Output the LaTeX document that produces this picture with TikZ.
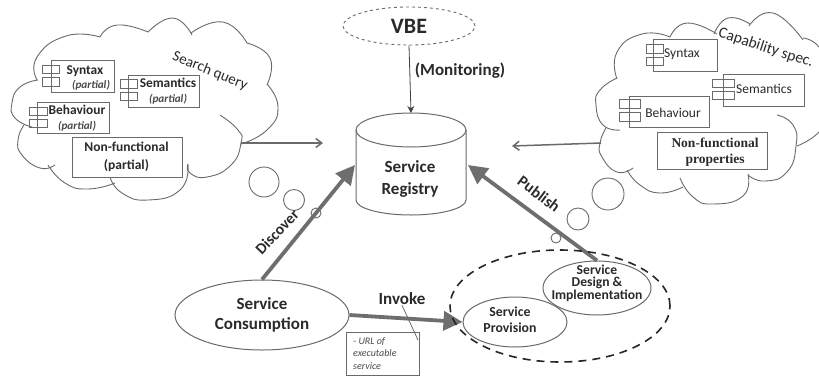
\documentclass[tikz,border=0pt]{standalone}
\usepackage{fontspec}
\setmainfont{Carlito}
\newfontfamily\serifbf{Liberation Serif}
\usetikzlibrary{shapes.geometric,arrows.meta}
\definecolor{ln}{HTML}{6A6A6A}
\definecolor{thick}{HTML}{6E6E6E}
\definecolor{tx}{HTML}{2A2A2A}
\newcommand{\lobe}[1]{\draw[cl] plot[smooth,tension=0.9] coordinates {#1};}
\tikzset{
 cl/.style={draw=ln,line width=0.9pt},
 bx/.style={draw=ln,line width=1pt},
 ell/.style={ellipse,draw=ln,line width=1pt,inner sep=0pt,align=center,text=tx},
 lab/.style={text=tx,inner sep=0pt,align=center},
 bub/.style={circle,draw=ln,line width=0.9pt,inner sep=0pt},
 mainarrow/.style={draw=thick,line width=3.8pt,-{Triangle[length=19pt,width=19pt]}},
 sidearrow/.style={draw=ln,line width=1.5pt,-{Straight Barb[length=6pt,width=9pt]}},
 lb/.style={lab,font=\bfseries\fontsize{13.4}{15}\selectfont},
 lp/.style={lab,font=\bfseries\itshape\fontsize{11.2}{13}\selectfont,text=ln!70!black},
 lr/.style={lab,font=\fontsize{13.5}{15}\selectfont},
}
\begin{document}
\begin{tikzpicture}[x=1pt,y=-1pt]
\useasboundingbox (0,0) rectangle (819,376);
\fill[white] (0,0) rectangle (819,376);
% left cloud
\lobe{(37,80) (37,57) (66,36) (100,37)}
\lobe{(100,37) (117,25) (148,32)}
\lobe{(148,32) (173,18) (192,35)}
\lobe{(191,33) (223,22) (247,43)}
\lobe{(247,43) (270,58) (267,85)}
\lobe{(267,84) (278,107) (267,130) (241,144)}
\lobe{(220,115) (238,130) (241,143) (231,165) (207,177) (190,173) (188,164)}
\lobe{(188,165) (180,190) (148,200) (122,193) (110,177)}
\lobe{(115,183) (88,189) (65,183) (48,165)}
\lobe{(55,165) (40,168) (22,155) (18,140) (24,125)}
\lobe{(32,127) (15,118) (12,103) (20,87) (38,80)}
% left bubbles
\node[bub,minimum size=30pt] (b1) at (264,182) {};
\node[bub,minimum size=21pt] (b2) at (294,200) {};
\node[bub,minimum size=10pt] (b3) at (316,213) {};
% left boxes
\node[bx,minimum width=63pt,minimum height=32pt,inner sep=0] (lsyn) at (82.5,76) {};
\draw[bx] (42,65) rectangle (59,73) (42,77) rectangle (59,86);
\node[lb] (lsynt) at (85,71) {Syntax};
\node[lp] (lsynp) at (91,85) {(partial)};
\node[bx,minimum width=71pt,minimum height=32pt,inner sep=0] (lsem) at (163.5,91) {};
\draw[bx] (120,79) rectangle (137,88) (120,92) rectangle (137,100);
\node[lb] (lsemt) at (168,83) {Semantics};
\node[lp] (lsemp) at (168,99) {(partial)};
\node[bx,minimum width=72pt,minimum height=31pt,inner sep=0] (lbeh) at (73,117.5) {};
\draw[bx] (29,107) rectangle (47,115) (29,119) rectangle (47,127);
\node[lb] (lbeht) at (77,110) {Behaviour};
\node[lp] (lbehp) at (77,126) {(partial)};
\node[bx,fill=white,minimum width=110pt,minimum height=40pt,inner sep=0] (lnf) at (127,157) {};
\node[lab,font=\bfseries\fontsize{13.5}{18}\selectfont] (lnft) at (126.5,157) {Non-functional\\(partial)};
\node[lab,font=\fontsize{15}{17}\selectfont,rotate=-22] (sq) at (210,71) {Search query};
% right cloud
\begin{scope}
\clip (0,0) rectangle (819,376);
\lobe{(617,79) (617,52) (642,34) (670,37)}
\lobe{(670,37) (687,23) (717,34)}
\lobe{(714,34) (728,18) (750,24)}
\lobe{(749,26) (773,13) (803,40)}
\lobe{(803,38) (822,52) (826,90) (824,125) (797,146)}
\lobe{(777,115) (793,125) (796,146) (787,172) (765,181) (748,175)}
\lobe{(748,174) (743,196) (713,204) (693,197) (680,178)}
\lobe{(683,187) (660,193) (640,185) (627,170)}
\lobe{(633,168) (617,172) (602,157) (600,143) (606,128)}
\lobe{(620,130) (603,125) (596,105) (600,90) (617,78)}
\end{scope}
% right bubbles
\node[bub,minimum size=32pt] (b4) at (608,194) {};
\node[bub,minimum size=22pt] (b5) at (578,219) {};
\node[bub,minimum size=10pt] (b6) at (556,238) {};
% right boxes
\node[bx,minimum width=64pt,minimum height=32pt,inner sep=0] (rsyn) at (685,55) {};
\draw[bx] (646,44) rectangle (663,53) (646,57) rectangle (663,65);
\node[lr] (rsynt) at (682,54) {Syntax};
\node[bx,minimum width=81pt,minimum height=32pt,inner sep=0] (rsem) at (763.5,90) {};
\draw[bx] (712,79) rectangle (734,87) (712,91) rectangle (734,99);
\node[lr] (rsemt) at (764,89) {Semantics};
\node[bx,minimum width=80pt,minimum height=31pt,inner sep=0] (rbeh) at (669,111.5) {};
\draw[bx] (619,99) rectangle (640,108) (619,112) rectangle (640,121);
\node[lr] (rbeht) at (673,113) {Behaviour};
\node[bx,fill=white,minimum width=110pt,minimum height=37pt,inner sep=0] (rnf) at (712,150.5) {};
\node[lab,font=\serifbf\bfseries\fontsize{13.5}{16}\selectfont] (rnft) at (715,152) {Non-functional\\properties};
\node[lab,font=\fontsize{15.6}{17}\selectfont,rotate=-18] (cs) at (766,48) {Capability spec.};
% VBE
\node[ellipse,draw=ln,dashed,line width=0.9pt,minimum width=132pt,minimum height=38pt,inner sep=0,text=tx,font=\bfseries\fontsize{22}{26}\selectfont] (vbe) at (409,26) {VBE};
% registry cylinder
\coordinate (regtop) at (411,113);
\coordinate (regL) at (355,165);
\coordinate (regR) at (468,165);
\draw[cl,line width=1pt] (356,130) arc[start angle=180,end angle=-180,x radius=55,y radius=17];
\draw[cl,line width=1pt] (356,130) -- (356,200) arc[start angle=180,end angle=0,x radius=55,y radius=15] -- (466,130);
\node[lab,font=\bfseries\fontsize{17}{21.5}\selectfont] (reg) at (410,179) {Service\\Registry};
% side arrows
\coordinate (cl) at (241,143);
\coordinate (cr) at (601,143);
\coordinate (sl) at (323,143);
\coordinate (sr) at (512,146);
\draw[sidearrow] (cl) -- (sl);
\draw[sidearrow] (cr) -- (sr);
\draw[draw=black!75,line width=0.8pt,-{Stealth[length=7pt,width=7pt]}] (vbe.south) -- (regtop);
\node[lab,font=\bfseries\fontsize{17}{20}\selectfont] (mon) at (460,71) {(Monitoring)};
% ellipses
\node[ell,minimum width=174pt,minimum height=70pt,font=\bfseries\fontsize{17}{20.5}\selectfont] (cons) at (262,315) {Service\\Consumption};
\node[ell,minimum width=104pt,minimum height=50pt] (prov) at (515,322) {};
\node[lab,font=\bfseries\fontsize{13.8}{16}\selectfont] (provt) at (510,320) {Service\\Provision};
\node[ell,minimum width=108pt,minimum height=54pt] (des) at (597,288) {};
\node[lab,font=\bfseries\fontsize{13.6}{12.5}\selectfont] (dest) at (597,283) {Service\\Design \&\\Implementation};
% main arrows
\draw[mainarrow] (cons.north) -- (regL);
\draw[mainarrow] (des.north) -- (regR);
\draw[mainarrow] (cons.east) -- (prov.west);
\node[ellipse,draw=black!85,dashed,dash pattern=on 8pt off 6pt,line width=1.6pt,minimum width=220pt,minimum height=112pt,inner sep=0] (grp) at (560,306) {};
% labels
\node[lab,font=\bfseries\fontsize{15.5}{17}\selectfont,rotate=46] (disc) at (277,232) {Discover};
\node[lab,font=\bfseries\fontsize{16}{18}\selectfont,rotate=-37] (pub) at (539,194) {Publish};
\node[lab,font=\bfseries\fontsize{17}{19}\selectfont] (inv) at (402,299) {Invoke};
% note
\node[bx,fill=white,minimum width=73pt,minimum height=43pt,inner sep=0] (note) at (382.5,353.5) {};
\node[lab,align=left,anchor=west,font=\itshape\fontsize{10}{12.5}\selectfont,text=ln!70!black] (notet) at (353,353.5) {- URL of\\executable\\service};
\coordinate (nc) at (418,340);
\draw[draw=ln,line width=0.8pt] (inv.south) -- (nc);
\end{tikzpicture}
\end{document}
